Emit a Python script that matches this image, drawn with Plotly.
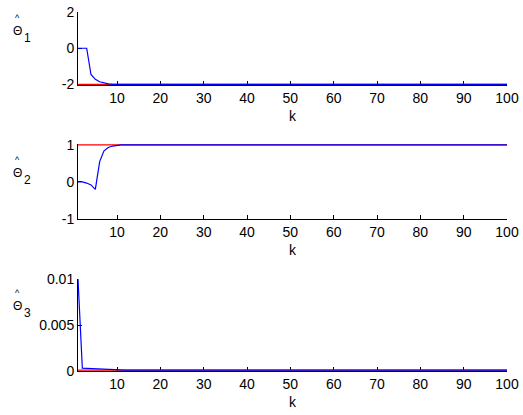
import plotly.graph_objects as go

# iteration index
k = list(range(1, 101))

# true parameters (red) and estimates (blue)
theta1_true = [-2.0] * 100
theta1_est = [0.0, 0.0, 0.0, -1.45, -1.72, -1.85, -1.93, -1.97, -1.99] + [-2.0] * 91

theta2_true = [1.0] * 100
theta2_est = [0.0, 0.0, -0.03, -0.08, -0.2, 0.55, 0.84, 0.93, 0.97, 0.99] + [1.0] * 90

theta3_true = [0.0001] * 100
theta3_est = [0.01, 0.0003, 0.00028, 0.00026, 0.00024, 0.0002, 0.00016, 0.00012] + [0.0001] * 92

W, H = 523, 415
ML, MR, MT, MB = 78, 16, 12, 44
PW, PH = W - ML - MR, H - MT - MB


def px_to_paper(px, py):
    return (px - ML) / PW, (H - MB - py) / PH


# (true, estimate, y range, tick values, tick text, subscript, top px, bottom px)
panels = [
    (theta1_true, theta1_est, [-2.03, 2], [-2, 0, 2], ["-2", "0", "2"], "1", 12, 85),
    (theta2_true, theta2_est, [-1, 1.025], [-1, 0, 1], ["-1", "0", "1"], "2", 144, 219),
    (theta3_true, theta3_est, [0, 0.01], [0, 0.005, 0.01], ["0", "0.005", "0.01"], "3", 279, 371),
]

family = "Liberation Sans, Arial, sans-serif"
font = dict(family=family, size=14, color="black")

fig = go.Figure()
layout = dict(
    template="none",
    width=W, height=H,
    margin=dict(l=ML, r=MR, t=MT, b=MB, pad=0),
    paper_bgcolor="white", plot_bgcolor="white",
    showlegend=False, font=font,
)
annotations = []
for i, (tv, ev, yr, tvals, ttext, sub, top, bot) in enumerate(panels):
    n = "" if i == 0 else str(i + 1)
    xa, ya = "x" + n, "y" + n
    fig.add_trace(go.Scatter(x=k, y=tv, mode="lines", line=dict(color="red", width=1.2),
                             xaxis=xa, yaxis=ya))
    fig.add_trace(go.Scatter(x=k, y=ev, mode="lines", line=dict(color="blue", width=1.2),
                             xaxis=xa, yaxis=ya))
    _, d0 = px_to_paper(0, bot)
    _, d1 = px_to_paper(0, top)
    layout["xaxis" + n] = dict(
        domain=[0, 1], anchor=ya, range=[1, 100],
        tickvals=list(range(10, 101, 10)), ticks="inside", ticklen=4, tickcolor="black",
        showline=True, linecolor="black", linewidth=1, showgrid=False, zeroline=False,
        tickfont=font, automargin=False, layer="below traces",
    )
    layout["yaxis" + n] = dict(
        domain=[max(d0, 0), min(d1, 1)], anchor=xa, range=yr,
        tickvals=tvals, ticktext=ttext, ticks="inside", ticklen=4, tickcolor="black",
        showline=True, linecolor="black", linewidth=1, showgrid=False, zeroline=False,
        tickfont=font, automargin=False, layer="below traces",
    )
    # x-axis label
    kx, ky = px_to_paper(293, bot + 31)
    annotations.append(dict(text="k", xref="paper", yref="paper", x=kx, y=ky,
                            xanchor="center", yanchor="middle", showarrow=False, font=font))
    # hatted Theta with subscript as the y-axis label
    ty = {0: 31, 1: 173, 2: 306}[i]
    tx, typ = px_to_paper(18, ty)
    annotations.append(dict(text="Θ", xref="paper", yref="paper", x=tx, y=typ,
                            xanchor="center", yanchor="middle", showarrow=False,
                            font=dict(family=family, size=12, color="black")))
    hx, hy = px_to_paper(18, ty - 13)
    annotations.append(dict(text="^", xref="paper", yref="paper", x=hx, y=hy,
                            xanchor="center", yanchor="middle", showarrow=False,
                            font=dict(family=family, size=9, color="black")))
    sx, sy = px_to_paper(27, ty + 7)
    annotations.append(dict(text=sub, xref="paper", yref="paper", x=sx, y=sy,
                            xanchor="center", yanchor="middle", showarrow=False,
                            font=dict(family=family, size=12, color="black")))

layout["annotations"] = annotations
fig.update_layout(**layout)
fig.write_html("out.html")
